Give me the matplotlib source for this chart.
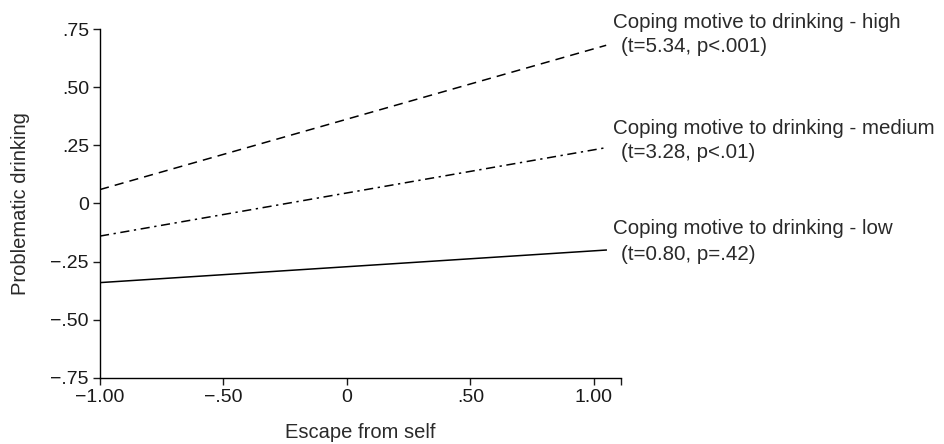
import matplotlib
matplotlib.use("Agg")
import matplotlib.pyplot as plt

# Data
x_vals = [-1.0, 1.05]
high = [0.06, 0.68]
medium = [-0.14, 0.24]
low = [-0.34, -0.20]

labels = ["Coping motive to drinking - high", "Coping motive to drinking - medium",
          "Coping motive to drinking - low"]
stats = ["(t=5.34, p<.001)", "(t=3.28, p<.01)", "(t=0.80, p=.42)"]

xticks = [-1.0, -0.5, 0.0, 0.5, 1.0]
xticklabels = ["\u22121.00", "\u2212.50", "0", ".50", "1.00"]
yticks = [-0.75, -0.5, -0.25, 0.0, 0.25, 0.5, 0.75]
yticklabels = ["\u2212.75", "\u2212.50", "\u2212.25", "0", ".25", ".50", ".75"]

plt.rcParams['font.family'] = ['Liberation Sans', 'DejaVu Sans']
W, H = 944, 444
fig = plt.figure(figsize=(W / 100, H / 100), dpi=100)
ax = fig.add_axes([100 / W, 1 - 378 / H, (621 - 100) / W, (378 - 29) / H])

ax.plot(x_vals, high, color='black', lw=1.1, linestyle=(0, (6, 4)))
ax.plot(x_vals, medium, color='black', lw=1.1, linestyle=(0, (6, 3, 1.5, 3)))
ax.plot(x_vals, low, color='black', lw=1.1, linestyle='-')

ax.set_xlim(-1.0, 1.11)
ax.set_ylim(-0.75, 0.75)
ax.set_xticks(xticks + [1.11])
ax.set_xticklabels(xticklabels + [""])
ax.set_yticks(yticks)
ax.set_yticklabels(yticklabels)
for s in ['top', 'right']:
    ax.spines[s].set_visible(False)
for s in ['left', 'bottom']:
    ax.spines[s].set_linewidth(1.0)
ax.tick_params(direction='out', length=5, width=1.0, labelsize=14, colors='#1a1a1a', pad=3)
ax.set_xlabel("Escape from self", fontsize=14.5, labelpad=12, color='#2a2a2a')
ax.set_ylabel("Problematic drinking", fontsize=14.5, labelpad=15, color='#2a2a2a')

ys = [(22, 46), (128, 153), (229, 254)]
for lab, st, (y1, y2) in zip(labels, stats, ys):
    fig.text(613 / W, 1 - y1 / H, lab, ha='left', va='center', fontsize=14.8, color='#2a2a2a')
    fig.text(621 / W, 1 - y2 / H, st, ha='left', va='center', fontsize=14.8, color='#2a2a2a')

fig.savefig("out.png", dpi=100)
